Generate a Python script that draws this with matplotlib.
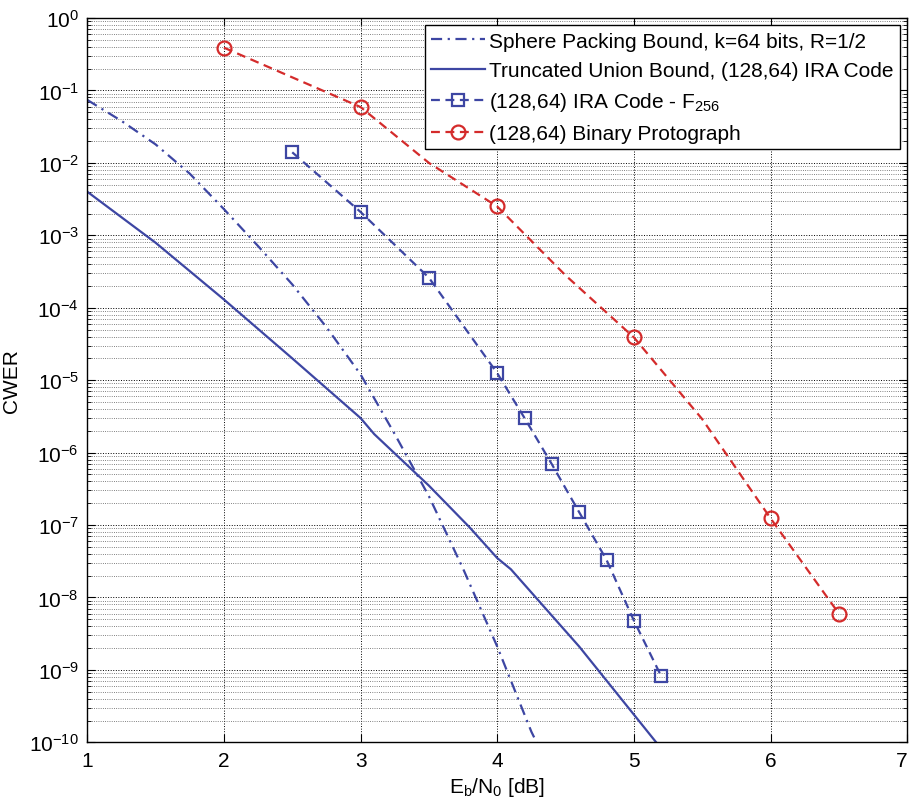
"""CWER vs Eb/N0 for (128,64) codes, MATLAB-like look."""

import numpy as np
import matplotlib

matplotlib.use("Agg")
import matplotlib.pyplot as plt
from matplotlib.ticker import LogLocator, NullFormatter, FixedLocator

# sphere packing bound, k=64, R=1/2
sp_ebn0 = [1.0, 1.25, 1.5, 1.75, 2.0, 2.25, 2.5, 2.75, 3.0, 3.25, 3.5, 3.75, 4.0, 4.25, 4.3]
sp_cwer = [7.4e-2, 3.8e-2, 1.8e-2, 7.1e-3, 2.3e-3, 7.1e-4, 2.1e-4, 5.4e-5, 1.2e-5,
           1.8e-6, 2.5e-7, 2.5e-8, 2.1e-9, 1.4e-10, 9.0e-11]

# truncated union bound
tub_ebn0 = [1.0, 1.5, 2.0, 2.5, 3.0, 3.1, 3.5, 3.8, 4.0, 4.1, 4.6, 5.2]
tub_cwer = [4.0e-3, 7.9e-4, 1.3e-4, 2.0e-5, 3.0e-6, 1.8e-6, 3.5e-7, 9.2e-8,
            3.5e-8, 2.45e-8, 2.1e-9, 8.2e-11]

# (128,64) IRA code over F256
ira_ebn0 = [2.5, 3.0, 3.5, 4.0, 4.2, 4.4, 4.6, 4.8, 5.0, 5.2]
ira_cwer = [1.4e-2, 2.1e-3, 2.6e-4, 1.25e-5, 3.0e-6, 6.9e-7, 1.5e-7, 3.3e-8, 4.8e-9, 8.2e-10]

# (128,64) binary protograph
proto_ebn0 = [2.0, 3.0, 3.5, 4.0, 4.5, 5.0, 5.5, 6.0, 6.5]
proto_cwer = [0.39, 5.9e-2, 1.0e-2, 2.5e-3, 2.8e-4, 3.9e-5, 2.9e-6, 1.24e-7, 6.0e-9]
proto_marks = [0, 1, 3, 5, 7, 8]

labels = [
    "Sphere Packing Bound, k=64 bits, R=1/2",
    "Truncated Union Bound, (128,64) IRA Code",
    "(128,64) IRA Code - F$_{256}$",
    "(128,64) Binary Protograph",
]

BLUE = "#3d46a3"
RED = "#d42b2b"

plt.rcParams["font.family"] = ["Liberation Sans", "DejaVu Sans"]
plt.rcParams["mathtext.default"] = "regular"
plt.rcParams["font.size"] = 15

fig = plt.figure(figsize=(9.11, 8.03), dpi=100)
ax = fig.add_axes([0.0958, 0.0743, 0.9000, 0.9020])

ax.semilogy(sp_ebn0, sp_cwer, color=BLUE, lw=1.6, ls=(0, (5, 2.5, 1, 2.5)), label=labels[0])
ax.semilogy(tub_ebn0, tub_cwer, color=BLUE, lw=1.6, ls="-", label=labels[1])
ax.semilogy(ira_ebn0, ira_cwer, color=BLUE, lw=1.6, ls=(0, (4, 2.5)), marker="s",
            ms=9, mfc="none", mew=1.6, label=labels[2])
ax.semilogy(proto_ebn0, proto_cwer, color=RED, lw=1.6, ls=(0, (4, 2.5)), marker="o",
            ms=10, mfc="none", mew=1.6, markevery=proto_marks, label=labels[3])

ax.set_xlim(1, 7)
ax.set_ylim(1e-10, 1)
ax.xaxis.set_major_locator(FixedLocator([1, 2, 3, 4, 5, 6, 7]))
ax.yaxis.set_major_locator(FixedLocator([10.0 ** k for k in range(-10, 1)]))
ax.yaxis.set_minor_locator(LogLocator(base=10, subs=np.arange(2, 10), numticks=100))
ax.yaxis.set_minor_formatter(NullFormatter())

ax.grid(True, which="major", ls=":", color="k", lw=0.7)
ax.grid(True, which="minor", axis="y", ls=":", color="0.35", lw=0.6)
ax.tick_params(which="both", direction="in", top=True, right=True, labelsize=15)
ax.tick_params(which="major", length=6, width=0.8, pad=6)
ax.tick_params(which="minor", length=3, width=0.6)
for s in ax.spines.values():
    s.set_linewidth(1.0)
# keep the last x tick label inside the canvas
ax.get_xticklabels()[-1].set_horizontalalignment("right")

ax.set_xlabel("E$_b$/N$_0$ [dB]", fontsize=15, labelpad=4)
ax.set_ylabel("CWER", fontsize=15, labelpad=6)

leg = ax.legend(loc="upper right", fontsize=15, frameon=True, fancybox=False,
                framealpha=1, edgecolor="k", handlelength=2.6, handletextpad=0.2,
                labelspacing=0.5, borderpad=0.3, borderaxespad=0.35)
leg.get_frame().set_linewidth(1.0)

fig.savefig("out.png", dpi=100)
